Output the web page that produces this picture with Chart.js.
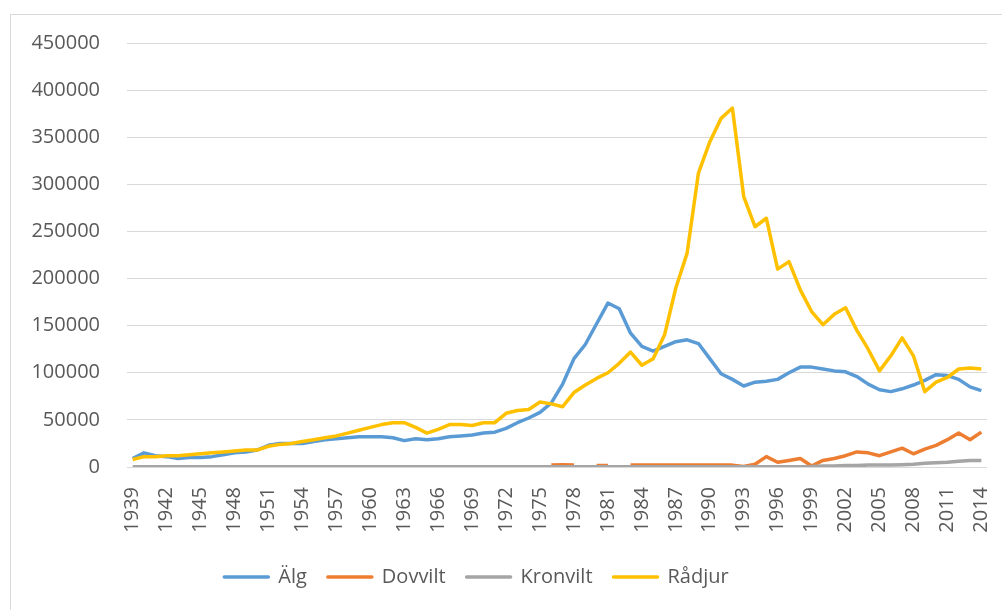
<!DOCTYPE html>
<html>
<head>
<meta charset="utf-8">
<script src="https://cdn.jsdelivr.net/npm/chart.js@4"></script>
<style>
  html, body { margin: 0; padding: 0; background: #fff; }
  #wrap { position: relative; width: 1002px; height: 610px; }
  #frame { position: absolute; left: 10px; top: 14px; right: 0; bottom: 0;
           border-top: 1px solid #d9d9d9; border-left: 1px solid #d9d9d9; }
  canvas { position: absolute; left: 0; top: 0; }
</style>
</head>
<body>
<div id="wrap">
  <div id="frame"></div>
  <canvas id="chart" width="1002" height="610"></canvas>
</div>
<script>
// Years on the category axis
const years = [
  1939, 1940, 1941, 1942, 1943, 1944, 1945, 1946, 1947, 1948,
  1949, 1950, 1951, 1952, 1953, 1954, 1955, 1956, 1957, 1958,
  1959, 1960, 1961, 1962, 1963, 1964, 1965, 1966, 1967, 1968,
  1969, 1970, 1971, 1972, 1973, 1974, 1975, 1976, 1977, 1978,
  1979, 1980, 1981, 1982, 1983, 1984, 1985, 1986, 1987, 1988,
  1989, 1990, 1991, 1992, 1993, 1994, 1995, 1996, 1997, 1998,
  1999, 2000, 2001, 2002, 2003, 2004, 2005, 2006, 2007, 2008,
  2009, 2010, 2011, 2012, 2013, 2014
];

// Only every third year gets a label
const shownTicks = [
  1939, 1942, 1945, 1948, 1951, 1954, 1957, 1960, 1963, 1966, 1969, 1972, 1975,
  1978, 1981, 1984, 1987, 1990, 1993, 1996, 1999, 2002, 2005, 2008, 2011, 2014
];

const yTicks = [0, 50000, 100000, 150000, 200000, 250000, 300000, 350000, 400000, 450000];

const alg = [
  9000, 15000, 12000, 11000, 9000, 10000, 10000, 11000, 13000, 15000,
  16000, 18000, 23000, 25000, 25000, 25000, 27000, 29000, 30000, 31000,
  32000, 32000, 32000, 31000, 28000, 30000, 29000, 30000, 32000, 33000,
  34000, 36000, 37000, 41000, 47000, 52000, 58000, 68000, 88000, 115000,
  130000, 152000, 174000, 168000, 142000, 128000, 123000, 128000, 133000, 135000,
  131000, 115000, 99000, 93000, 86000, 90000, 91000, 93000, 100000, 106000,
  106000, 104000, 102000, 101000, 96000, 88000, 82000, 80000, 83000, 87000,
  92000, 98000, 97000, 93000, 85000, 81000
];

const dovvilt = [
  null, null, null, null, null, null, null, null, null, null,
  null, null, null, null, null, null, null, null, null, null,
  null, null, null, null, null, null, null, null, null, null,
  null, null, null, null, null, null, null, 2000, 2500, 2000,
  null, 1500, 1500, null, 2000, 2000, 2000, 2000, 2000, 2000,
  2000, 2000, 2000, 2000, 500, 3000, 11000, 5000, 7000, 9000,
  1000, 7000, 9000, 12000, 16000, 15000, 12000, 16000, 20000, 14000,
  19000, 23000, 29000, 36000, 29000, 37000
];

const kronvilt = [
  300, 300, 300, 300, 300, 300, 300, 300, 300, 300,
  300, 300, 300, 300, 300, 300, 300, 300, 300, 300,
  300, 300, 300, 300, 300, 300, 300, 300, 300, 300,
  300, 300, 300, 300, 300, 300, 300, 300, 300, 300,
  300, 300, 300, 300, 300, 300, 300, 300, 300, 300,
  300, 300, 300, 300, 300, 300, 300, 300, 300, 300,
  500, 1000, 1000, 1500, 1500, 2000, 2000, 2000, 2500, 3000,
  4000, 4500, 5000, 6000, 7000, 7000
];

const radjur = [
  8000, 11000, 11000, 12000, 12000, 13000, 14000, 15000, 16000, 17000,
  18000, 18000, 22000, 24000, 25000, 27000, 29000, 31000, 33000, 36000,
  39000, 42000, 45000, 47000, 47000, 42000, 36000, 40000, 45000, 45000,
  44000, 47000, 47000, 57000, 60000, 61000, 69000, 67000, 64000, 79000,
  87000, 94000, 100000, 110000, 122000, 108000, 115000, 140000, 190000, 227000,
  312000, 345000, 370000, 381000, 287000, 255000, 264000, 210000, 218000, 188000,
  165000, 151000, 162000, 169000, 145000, 125000, 102000, 118000, 137000, 118000,
  80000, 90000, 95000, 104000, 105000, 104000
];

const textColor = "#595959";
const font = { family: "'Open Sans', sans-serif", size: 20 };

// Excel centres the legend a bit left of the plot, move it over
const legendShift = {
  id: "legendShift",
  afterLayout(chart) {
    chart.legend.left -= 31;
    chart.legend.right -= 31;
  }
};

const ctx = document.getElementById("chart").getContext("2d");
new Chart(ctx, {
  type: "line",
  data: {
    labels: years,
    datasets: [
      { label: "Älg", data: alg, borderColor: "#5B9BD5", backgroundColor: "#5B9BD5", order: 4 },
      { label: "Dovvilt", data: dovvilt, borderColor: "#ED7D31", backgroundColor: "#ED7D31", order: 3 },
      { label: "Kronvilt", data: kronvilt, borderColor: "#A5A5A5", backgroundColor: "#A5A5A5", order: 2 },
      { label: "Rådjur", data: radjur, borderColor: "#FFC000", backgroundColor: "#FFC000", order: 1 }
    ]
  },
  options: {
    responsive: false,
    animation: false,
    layout: { padding: { left: 28, right: 15, top: 43, bottom: 13 } },
    elements: {
      point: { radius: 0 },
      line: { borderWidth: 3.5, tension: 0, borderJoinStyle: "round" }
    },
    scales: {
      x: {
        offset: true,
        grid: { display: false, drawTicks: false },
        border: { display: false },
        ticks: {
          autoSkip: false,
          minRotation: 90,
          maxRotation: 90,
          padding: 20,
          color: textColor,
          font: font,
          callback: (value, index) => shownTicks.includes(years[index]) ? String(years[index]) : ""
        },
        afterFit: scale => {
          scale.height = 79;
          scale.paddingLeft = 0;
          scale.paddingRight = 0;
        }
      },
      y: {
        min: yTicks[0],
        max: yTicks[yTicks.length - 1],
        ticks: {
          stepSize: yTicks[1] - yTicks[0],
          padding: 27,
          color: textColor,
          font: font,
          callback: value => String(value)
        },
        grid: { color: "#d9d9d9", drawTicks: false },
        border: { display: false },
        afterFit: scale => { scale.width = 99; }
      }
    },
    plugins: {
      legend: {
        position: "bottom",
        labels: {
          color: textColor,
          font: font,
          boxWidth: 44,
          boxHeight: 0,
          padding: 21,
          sort: (a, b) => a.datasetIndex - b.datasetIndex
        }
      },
      tooltip: { enabled: false }
    }
  },
  plugins: [legendShift]
});
</script>
</body>
</html>
